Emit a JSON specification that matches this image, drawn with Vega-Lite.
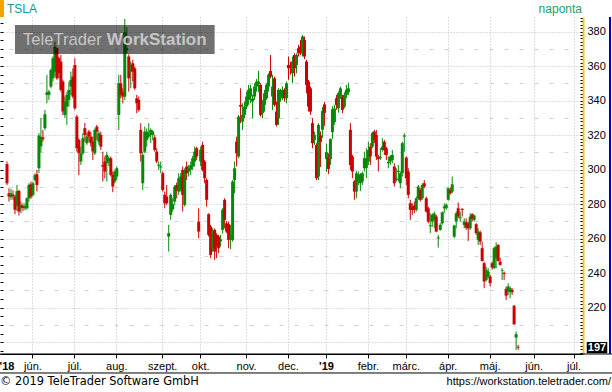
{
"$schema": "https://vega.github.io/schema/vega-lite/v6.json",
"width": 583, "height": 337,
"autosize": {"type": "none"},
"padding": {"left": 0, "top": 17, "right": 29, "bottom": 38},
"background": "white",
"config": {"view": {"stroke": null}, "font": "Liberation Sans"},
"datasets": {"tsla": [
{"d":"2018-05-14","o":303.3,"h":304.7,"l":291.1,"c":292.1},
{"d":"2018-05-15","o":286.3,"h":289.2,"l":281.5,"c":284.4},
{"d":"2018-05-16","o":284.0,"h":288.8,"l":282.5,"c":286.3},
{"d":"2018-05-17","o":285.5,"h":288.0,"l":282.5,"c":284.6},
{"d":"2018-05-18","o":284.4,"h":285.4,"l":274.2,"c":276.7},
{"d":"2018-05-21","o":279.0,"h":291.1,"l":276.0,"c":287.5},
{"d":"2018-05-22","o":287.7,"h":288.2,"l":273.4,"c":275.7},
{"d":"2018-05-23","o":277.6,"h":281.5,"l":274.7,"c":279.6},
{"d":"2018-05-24","o":279.0,"h":280.5,"l":276.0,"c":277.8},
{"d":"2018-05-25","o":277.6,"h":280.5,"l":276.4,"c":278.9},
{"d":"2018-05-29","o":277.6,"h":284.0,"l":276.7,"c":283.4},
{"d":"2018-05-30","o":283.4,"h":292.1,"l":281.5,"c":291.1},
{"d":"2018-05-31","o":291.5,"h":293.1,"l":283.0,"c":284.4},
{"d":"2018-06-01","o":285.4,"h":293.1,"l":284.4,"c":292.1},
{"d":"2018-06-04","o":294.0,"h":297.9,"l":293.1,"c":296.9},
{"d":"2018-06-05","o":297.3,"h":299.8,"l":287.3,"c":291.1},
{"d":"2018-06-06","o":300.8,"h":321.1,"l":297.9,"c":319.7},
{"d":"2018-06-07","o":313.5,"h":329.8,"l":310.0,"c":319.0},
{"d":"2018-06-08","o":318.6,"h":323.0,"l":316.2,"c":317.6},
{"d":"2018-06-11","o":324.0,"h":334.6,"l":323.0,"c":332.1},
{"d":"2018-06-12","o":343.3,"h":354.9,"l":338.4,"c":344.8},
{"d":"2018-06-13","o":343.3,"h":346.2,"l":340.4,"c":345.2},
{"d":"2018-06-14","o":348.1,"h":358.7,"l":347.1,"c":357.7},
{"d":"2018-06-15","o":352.9,"h":365.5,"l":351.0,"c":364.5},
{"d":"2018-06-18","o":356.8,"h":374.2,"l":353.9,"c":371.3},
{"d":"2018-06-19","o":370.3,"h":370.7,"l":352.0,"c":352.9},
{"d":"2018-06-20","o":364.5,"h":365.5,"l":352.9,"c":355.8},
{"d":"2018-06-21","o":362.6,"h":366.4,"l":345.2,"c":346.2},
{"d":"2018-06-22","o":351.0,"h":352.0,"l":331.7,"c":333.6},
{"d":"2018-06-25","o":331.7,"h":342.3,"l":329.8,"c":339.4},
{"d":"2018-06-26","o":336.5,"h":345.2,"l":325.9,"c":343.3},
{"d":"2018-06-27","o":340.4,"h":351.0,"l":336.5,"c":346.2},
{"d":"2018-06-28","o":348.1,"h":356.8,"l":343.3,"c":352.0},
{"d":"2018-06-29","o":353.9,"h":358.7,"l":341.3,"c":342.3},
{"d":"2018-07-02","o":360.6,"h":364.5,"l":334.6,"c":335.5},
{"d":"2018-07-03","o":330.7,"h":331.7,"l":310.4,"c":312.4},
{"d":"2018-07-05","o":317.2,"h":318.2,"l":296.9,"c":309.5},
{"d":"2018-07-06","o":304.7,"h":313.3,"l":302.7,"c":309.5},
{"d":"2018-07-09","o":309.5,"h":321.1,"l":308.5,"c":318.2},
{"d":"2018-07-10","o":324.0,"h":327.0,"l":316.2,"c":320.1},
{"d":"2018-07-11","o":315.3,"h":321.1,"l":314.3,"c":319.1},
{"d":"2018-07-12","o":322.0,"h":323.0,"l":316.2,"c":319.1},
{"d":"2018-07-13","o":319.1,"h":322.0,"l":313.3,"c":315.3},
{"d":"2018-07-16","o":316.2,"h":319.1,"l":305.6,"c":310.5},
{"d":"2018-07-17","o":309.5,"h":323.9,"l":308.5,"c":323.0},
{"d":"2018-07-18","o":324.9,"h":325.9,"l":317.2,"c":322.0},
{"d":"2018-07-19","o":316.2,"h":322.5,"l":314.3,"c":321.1},
{"d":"2018-07-20","o":320.1,"h":322.0,"l":311.4,"c":313.3},
{"d":"2018-07-23","o":302.7,"h":310.4,"l":293.1,"c":301.8},
{"d":"2018-07-24","o":304.7,"h":307.6,"l":295.0,"c":298.9},
{"d":"2018-07-25","o":303.7,"h":310.4,"l":293.1,"c":308.5},
{"d":"2018-07-26","o":304.7,"h":307.6,"l":302.0,"c":306.6},
{"d":"2018-07-27","o":306.6,"h":307.6,"l":296.0,"c":296.9},
{"d":"2018-07-30","o":296.9,"h":298.9,"l":286.9,"c":290.2},
{"d":"2018-07-31","o":293.1,"h":300.0,"l":292.1,"c":298.9},
{"d":"2018-08-01","o":296.0,"h":301.8,"l":294.0,"c":300.8},
{"d":"2018-08-02","o":331.7,"h":354.9,"l":323.0,"c":350.0},
{"d":"2018-08-03","o":350.0,"h":354.9,"l":341.3,"c":343.3},
{"d":"2018-08-06","o":345.2,"h":347.1,"l":338.4,"c":342.3},
{"d":"2018-08-07","o":342.3,"h":387.3,"l":340.4,"c":379.6},
{"d":"2018-08-08","o":369.1,"h":382.6,"l":367.1,"c":370.3},
{"d":"2018-08-09","o":365.5,"h":366.8,"l":345.2,"c":352.9},
{"d":"2018-08-10","o":356.8,"h":362.6,"l":347.1,"c":360.6},
{"d":"2018-08-13","o":361.6,"h":363.6,"l":351.0,"c":356.8},
{"d":"2018-08-14","o":358.7,"h":359.7,"l":346.2,"c":347.1},
{"d":"2018-08-15","o":341.3,"h":343.3,"l":332.7,"c":338.4},
{"d":"2018-08-16","o":340.4,"h":342.3,"l":333.6,"c":334.6},
{"d":"2018-08-17","o":323.0,"h":326.9,"l":304.7,"c":309.5},
{"d":"2018-08-20","o":292.1,"h":310.4,"l":288.2,"c":308.5},
{"d":"2018-08-21","o":310.4,"h":324.9,"l":309.5,"c":322.0},
{"d":"2018-08-22","o":317.2,"h":323.9,"l":313.3,"c":322.0},
{"d":"2018-08-23","o":319.1,"h":326.9,"l":318.2,"c":321.1},
{"d":"2018-08-24","o":320.1,"h":323.9,"l":315.3,"c":323.0},
{"d":"2018-08-27","o":320.1,"h":323.0,"l":317.0,"c":322.0},
{"d":"2018-08-28","o":318.6,"h":320.1,"l":310.4,"c":311.4},
{"d":"2018-08-29","o":310.4,"h":312.4,"l":303.7,"c":304.7},
{"d":"2018-08-30","o":302.2,"h":304.7,"l":299.8,"c":302.9},
{"d":"2018-08-31","o":301.3,"h":304.7,"l":298.0,"c":301.9},
{"d":"2018-09-04","o":297.9,"h":298.9,"l":287.3,"c":288.2},
{"d":"2018-09-05","o":285.4,"h":287.3,"l":277.6,"c":280.5},
{"d":"2018-09-06","o":284.4,"h":291.1,"l":279.6,"c":280.5},
{"d":"2018-09-07","o":261.2,"h":268.0,"l":252.5,"c":263.2},
{"d":"2018-09-10","o":273.8,"h":286.3,"l":270.9,"c":285.4},
{"d":"2018-09-11","o":277.0,"h":283.4,"l":275.7,"c":280.0},
{"d":"2018-09-12","o":281.5,"h":291.1,"l":279.6,"c":290.2},
{"d":"2018-09-13","o":291.1,"h":292.5,"l":283.4,"c":288.0},
{"d":"2018-09-14","o":287.3,"h":297.9,"l":285.4,"c":295.0},
{"d":"2018-09-17","o":288.2,"h":297.9,"l":287.3,"c":296.0},
{"d":"2018-09-18","o":299.8,"h":301.8,"l":275.7,"c":285.4},
{"d":"2018-09-19","o":279.6,"h":300.8,"l":278.6,"c":299.8},
{"d":"2018-09-20","o":301.8,"h":304.7,"l":294.0,"c":297.9},
{"d":"2018-09-21","o":298.9,"h":302.7,"l":296.0,"c":300.8},
{"d":"2018-09-24","o":300.0,"h":304.7,"l":296.9,"c":302.5},
{"d":"2018-09-25","o":301.8,"h":308.0,"l":299.8,"c":306.6},
{"d":"2018-09-26","o":304.7,"h":313.3,"l":301.8,"c":310.4},
{"d":"2018-09-27","o":312.4,"h":313.3,"l":305.6,"c":307.6},
{"d":"2018-09-28","o":269.9,"h":277.6,"l":260.3,"c":264.1},
{"d":"2018-10-01","o":304.7,"h":313.3,"l":302.0,"c":311.4},
{"d":"2018-10-02","o":314.3,"h":316.2,"l":298.9,"c":299.8},
{"d":"2018-10-03","o":304.7,"h":305.6,"l":292.1,"c":295.0},
{"d":"2018-10-04","o":294.0,"h":295.0,"l":278.6,"c":282.5},
{"d":"2018-10-05","o":274.2,"h":274.7,"l":261.2,"c":262.2},
{"d":"2018-10-08","o":267.0,"h":268.0,"l":248.7,"c":250.6},
{"d":"2018-10-09","o":254.5,"h":266.0,"l":252.5,"c":264.1},
{"d":"2018-10-10","o":265.1,"h":266.0,"l":247.7,"c":252.5},
{"d":"2018-10-11","o":262.2,"h":263.2,"l":248.7,"c":256.0},
{"d":"2018-10-12","o":261.2,"h":262.2,"l":251.6,"c":254.5},
{"d":"2018-10-15","o":258.5,"h":262.2,"l":255.4,"c":259.6},
{"d":"2018-10-16","o":265.1,"h":277.6,"l":263.0,"c":276.7},
{"d":"2018-10-17","o":282.5,"h":283.4,"l":266.0,"c":270.9},
{"d":"2018-10-18","o":268.9,"h":270.2,"l":263.2,"c":264.1},
{"d":"2018-10-19","o":268.4,"h":269.9,"l":254.5,"c":259.3},
{"d":"2018-10-22","o":259.3,"h":268.0,"l":254.0,"c":262.2},
{"d":"2018-10-23","o":259.3,"h":294.0,"l":258.3,"c":293.1},
{"d":"2018-10-24","o":294.0,"h":304.7,"l":286.3,"c":300.8},
{"d":"2018-10-25","o":316.2,"h":319.1,"l":301.8,"c":309.5},
{"d":"2018-10-26","o":307.6,"h":331.7,"l":306.6,"c":330.7},
{"d":"2018-10-29","o":337.5,"h":347.1,"l":326.9,"c":336.5},
{"d":"2018-10-30","o":327.8,"h":338.4,"l":323.0,"c":331.7},
{"d":"2018-10-31","o":331.7,"h":339.4,"l":329.8,"c":336.5},
{"d":"2018-11-01","o":336.5,"h":345.2,"l":335.0,"c":342.3},
{"d":"2018-11-02","o":340.4,"h":349.1,"l":337.5,"c":346.2},
{"d":"2018-11-05","o":342.3,"h":349.1,"l":338.4,"c":347.1},
{"d":"2018-11-06","o":339.4,"h":343.3,"l":329.8,"c":341.3},
{"d":"2018-11-07","o":342.3,"h":350.0,"l":340.4,"c":348.1},
{"d":"2018-11-08","o":348.1,"h":352.5,"l":345.2,"c":351.0},
{"d":"2018-11-09","o":349.5,"h":357.2,"l":345.0,"c":351.0},
{"d":"2018-11-12","o":349.1,"h":350.0,"l":330.7,"c":331.7},
{"d":"2018-11-13","o":332.7,"h":340.4,"l":329.8,"c":338.4},
{"d":"2018-11-14","o":337.5,"h":346.2,"l":333.6,"c":344.2},
{"d":"2018-11-15","o":341.3,"h":350.0,"l":340.4,"c":349.1},
{"d":"2018-11-16","o":348.1,"h":355.8,"l":345.2,"c":354.9},
{"d":"2018-11-19","o":357.1,"h":366.4,"l":352.9,"c":353.9},
{"d":"2018-11-20","o":342.3,"h":354.9,"l":334.6,"c":348.1},
{"d":"2018-11-21","o":352.9,"h":353.9,"l":336.5,"c":337.5},
{"d":"2018-11-23","o":333.6,"h":339.4,"l":325.0,"c":325.9},
{"d":"2018-11-26","o":329.8,"h":347.1,"l":325.9,"c":346.2},
{"d":"2018-11-27","o":341.3,"h":346.8,"l":339.4,"c":344.2},
{"d":"2018-11-28","o":343.3,"h":348.1,"l":340.4,"c":346.2},
{"d":"2018-11-29","o":346.2,"h":347.1,"l":339.4,"c":341.3},
{"d":"2018-11-30","o":341.3,"h":351.0,"l":338.4,"c":350.0},
{"d":"2018-12-03","o":360.6,"h":365.5,"l":352.0,"c":358.7},
{"d":"2018-12-04","o":359.7,"h":362.5,"l":355.0,"c":359.1},
{"d":"2018-12-06","o":355.8,"h":365.5,"l":350.0,"c":362.6},
{"d":"2018-12-07","o":366.4,"h":367.4,"l":353.9,"c":358.7},
{"d":"2018-12-10","o":360.6,"h":367.4,"l":355.8,"c":366.4},
{"d":"2018-12-11","o":370.3,"h":372.2,"l":365.5,"c":367.4},
{"d":"2018-12-12","o":371.3,"h":375.1,"l":366.4,"c":367.4},
{"d":"2018-12-13","o":367.4,"h":378.0,"l":365.5,"c":377.1},
{"d":"2018-12-14","o":375.1,"h":377.1,"l":364.0,"c":365.5},
{"d":"2018-12-17","o":362.6,"h":363.6,"l":344.2,"c":349.1},
{"d":"2018-12-18","o":351.0,"h":352.0,"l":333.6,"c":336.5},
{"d":"2018-12-19","o":347.1,"h":348.1,"l":331.7,"c":333.6},
{"d":"2018-12-20","o":326.9,"h":329.8,"l":312.4,"c":315.3},
{"d":"2018-12-21","o":317.2,"h":322.0,"l":314.3,"c":320.1},
{"d":"2018-12-24","o":314.3,"h":315.3,"l":294.0,"c":295.0},
{"d":"2018-12-26","o":296.0,"h":326.9,"l":294.0,"c":325.9},
{"d":"2018-12-27","o":319.8,"h":322.2,"l":301.5,"c":316.1},
{"d":"2018-12-28","o":323.1,"h":336.2,"l":318.4,"c":333.9},
{"d":"2018-12-31","o":337.8,"h":339.2,"l":325.3,"c":332.8},
{"d":"2019-01-02","o":306.1,"h":315.1,"l":298.8,"c":310.1},
{"d":"2019-01-03","o":307.0,"h":309.4,"l":297.4,"c":300.4},
{"d":"2019-01-04","o":306.0,"h":318.0,"l":302.7,"c":317.7},
{"d":"2019-01-07","o":321.7,"h":336.7,"l":317.8,"c":335.0},
{"d":"2019-01-08","o":327.5,"h":337.5,"l":326.0,"c":335.4},
{"d":"2019-01-09","o":341.3,"h":343.3,"l":334.6,"c":337.5},
{"d":"2019-01-10","o":335.5,"h":345.2,"l":333.0,"c":344.2},
{"d":"2019-01-11","o":342.3,"h":348.1,"l":341.0,"c":347.1},
{"d":"2019-01-14","o":342.3,"h":343.3,"l":332.7,"c":334.6},
{"d":"2019-01-15","o":336.5,"h":344.8,"l":335.5,"c":343.3},
{"d":"2019-01-16","o":343.3,"h":349.1,"l":341.3,"c":346.2},
{"d":"2019-01-17","o":344.8,"h":350.5,"l":343.3,"c":347.1},
{"d":"2019-01-18","o":323.0,"h":326.9,"l":299.8,"c":302.7},
{"d":"2019-01-22","o":307.6,"h":308.5,"l":295.0,"c":298.9},
{"d":"2019-01-23","o":293.1,"h":294.0,"l":282.5,"c":287.3},
{"d":"2019-01-24","o":287.3,"h":299.3,"l":283.4,"c":297.9},
{"d":"2019-01-25","o":293.1,"h":298.9,"l":291.1,"c":296.9},
{"d":"2019-01-28","o":292.1,"h":298.0,"l":287.5,"c":297.3},
{"d":"2019-01-29","o":293.1,"h":298.9,"l":291.1,"c":297.9},
{"d":"2019-01-30","o":300.8,"h":310.4,"l":298.9,"c":306.6},
{"d":"2019-01-31","o":301.0,"h":312.4,"l":295.0,"c":306.6},
{"d":"2019-02-01","o":304.7,"h":316.2,"l":302.7,"c":311.4},
{"d":"2019-02-04","o":313.3,"h":315.3,"l":302.7,"c":307.6},
{"d":"2019-02-05","o":313.3,"h":322.0,"l":312.4,"c":321.1},
{"d":"2019-02-06","o":322.0,"h":323.0,"l":315.3,"c":317.2},
{"d":"2019-02-07","o":320.1,"h":323.0,"l":305.6,"c":307.6},
{"d":"2019-02-08","o":307.6,"h":308.5,"l":298.9,"c":306.2},
{"d":"2019-02-11","o":306.6,"h":312.4,"l":305.6,"c":307.2},
{"d":"2019-02-12","o":311.4,"h":318.2,"l":310.4,"c":313.3},
{"d":"2019-02-13","o":316.2,"h":317.2,"l":308.5,"c":311.4},
{"d":"2019-02-14","o":312.4,"h":313.3,"l":305.6,"c":308.5},
{"d":"2019-02-15","o":303.7,"h":307.6,"l":300.8,"c":304.5},
{"d":"2019-02-19","o":304.7,"h":308.5,"l":302.7,"c":307.6},
{"d":"2019-02-20","o":305.6,"h":311.4,"l":303.7,"c":308.5},
{"d":"2019-02-21","o":301.8,"h":303.7,"l":290.2,"c":292.1},
{"d":"2019-02-22","o":294.0,"h":300.8,"l":293.1,"c":294.9},
{"d":"2019-02-25","o":298.6,"h":302.7,"l":293.1,"c":299.2},
{"d":"2019-02-26","o":292.1,"h":298.9,"l":289.2,"c":297.9},
{"d":"2019-02-27","o":297.9,"h":316.2,"l":296.0,"c":315.3},
{"d":"2019-02-28","o":319.1,"h":321.1,"l":310.4,"c":319.8},
{"d":"2019-03-01","o":307.0,"h":307.6,"l":291.1,"c":295.0},
{"d":"2019-03-04","o":298.9,"h":300.8,"l":283.4,"c":285.4},
{"d":"2019-03-05","o":280.5,"h":282.5,"l":270.9,"c":276.7},
{"d":"2019-03-06","o":278.6,"h":280.5,"l":273.8,"c":276.7},
{"d":"2019-03-07","o":279.2,"h":281.5,"l":274.7,"c":276.7},
{"d":"2019-03-08","o":276.7,"h":284.4,"l":275.7,"c":283.4},
{"d":"2019-03-11","o":283.4,"h":291.1,"l":282.5,"c":290.2},
{"d":"2019-03-12","o":288.2,"h":289.2,"l":281.5,"c":282.5},
{"d":"2019-03-13","o":283.4,"h":292.1,"l":282.5,"c":291.1},
{"d":"2019-03-14","o":292.1,"h":294.0,"l":289.2,"c":290.2},
{"d":"2019-03-15","o":283.4,"h":284.4,"l":275.2,"c":275.7},
{"d":"2019-03-18","o":277.6,"h":278.6,"l":268.9,"c":269.9},
{"d":"2019-03-19","o":267.2,"h":274.7,"l":263.2,"c":267.8},
{"d":"2019-03-20","o":269.9,"h":274.7,"l":266.9,"c":273.8},
{"d":"2019-03-21","o":270.9,"h":275.7,"l":266.0,"c":274.5},
{"d":"2019-03-22","o":272.8,"h":273.8,"l":263.7,"c":264.1},
{"d":"2019-03-25","o":260.1,"h":262.2,"l":254.8,"c":260.7},
{"d":"2019-03-26","o":265.1,"h":269.0,"l":264.6,"c":268.0},
{"d":"2019-03-27","o":268.9,"h":275.7,"l":268.0,"c":275.3},
{"d":"2019-03-28","o":277.6,"h":280.5,"l":274.7,"c":278.6},
{"d":"2019-03-29","o":277.6,"h":280.5,"l":276.7,"c":279.6},
{"d":"2019-04-01","o":282.5,"h":289.6,"l":282.0,"c":289.2},
{"d":"2019-04-02","o":288.2,"h":289.6,"l":285.4,"c":286.3},
{"d":"2019-04-03","o":287.3,"h":296.0,"l":286.3,"c":291.5},
{"d":"2019-04-04","o":261.2,"h":268.0,"l":260.3,"c":267.6},
{"d":"2019-04-05","o":269.9,"h":275.7,"l":266.0,"c":274.7},
{"d":"2019-04-08","o":277.6,"h":281.0,"l":271.8,"c":272.8},
{"d":"2019-04-09","o":271.8,"h":275.7,"l":269.9,"c":272.4},
{"d":"2019-04-10","o":277.3,"h":277.6,"l":272.8,"c":276.6},
{"d":"2019-04-11","o":268.0,"h":271.8,"l":266.0,"c":269.9},
{"d":"2019-04-12","o":269.5,"h":271.8,"l":265.1,"c":266.4},
{"d":"2019-04-15","o":268.9,"h":269.9,"l":258.7,"c":266.0},
{"d":"2019-04-16","o":266.0,"h":274.7,"l":265.1,"c":272.8},
{"d":"2019-04-17","o":274.2,"h":274.7,"l":269.9,"c":271.5},
{"d":"2019-04-18","o":270.9,"h":274.0,"l":269.9,"c":273.4},
{"d":"2019-04-22","o":268.4,"h":269.0,"l":262.2,"c":263.2},
{"d":"2019-04-23","o":259.3,"h":266.0,"l":256.4,"c":264.1},
{"d":"2019-04-24","o":263.7,"h":264.6,"l":256.4,"c":258.3},
{"d":"2019-04-25","o":254.5,"h":258.3,"l":246.7,"c":247.1},
{"d":"2019-04-26","o":245.8,"h":246.7,"l":231.3,"c":235.2},
{"d":"2019-04-29","o":236.1,"h":243.8,"l":235.2,"c":241.9},
{"d":"2019-04-30","o":238.1,"h":242.9,"l":237.1,"c":241.0},
{"d":"2019-05-01","o":238.1,"h":239.0,"l":232.3,"c":234.2},
{"d":"2019-05-02","o":245.8,"h":246.7,"l":242.0,"c":243.3},
{"d":"2019-05-03","o":242.9,"h":255.4,"l":242.5,"c":254.5},
{"d":"2019-05-06","o":248.7,"h":257.9,"l":242.9,"c":255.4},
{"d":"2019-05-07","o":256.4,"h":256.8,"l":246.7,"c":247.1},
{"d":"2019-05-08","o":246.7,"h":249.0,"l":244.4,"c":244.8},
{"d":"2019-05-09","o":241.5,"h":242.9,"l":236.1,"c":241.9},
{"d":"2019-05-10","o":240.2,"h":241.0,"l":236.1,"c":239.6},
{"d":"2019-05-13","o":230.9,"h":232.3,"l":224.5,"c":227.0},
{"d":"2019-05-14","o":229.4,"h":234.2,"l":227.4,"c":232.3},
{"d":"2019-05-15","o":229.0,"h":232.3,"l":225.5,"c":231.3},
{"d":"2019-05-16","o":230.3,"h":231.3,"l":227.4,"c":229.0},
{"d":"2019-05-17","o":221.1,"h":221.6,"l":210.1,"c":210.4},
{"d":"2019-05-20","o":202.7,"h":206.2,"l":195.6,"c":204.7},
{"d":"2019-05-21","o":197.4,"h":198.5,"l":195.6,"c":196.9}
]},
"data": {"name": "tsla"},
"resolve": {"axis": {"y": "independent"}},
"layer": [
{
"mark": {"type": "rule", "strokeWidth": 1},
"encoding": {
"x": {"field": "d", "type": "ordinal",
"scale": {"type": "band", "paddingInner": 0, "paddingOuter": 0, "domain": ["2018-05-09","2018-05-10","2018-05-11","2018-05-14","2018-05-15","2018-05-16","2018-05-17","2018-05-18","2018-05-21","2018-05-22","2018-05-23","2018-05-24","2018-05-25","2018-05-29","2018-05-30","2018-05-31","2018-06-01","2018-06-04","2018-06-05","2018-06-06","2018-06-07","2018-06-08","2018-06-11","2018-06-12","2018-06-13","2018-06-14","2018-06-15","2018-06-18","2018-06-19","2018-06-20","2018-06-21","2018-06-22","2018-06-25","2018-06-26","2018-06-27","2018-06-28","2018-06-29","2018-07-02","2018-07-03","2018-07-05","2018-07-06","2018-07-09","2018-07-10","2018-07-11","2018-07-12","2018-07-13","2018-07-16","2018-07-17","2018-07-18","2018-07-19","2018-07-20","2018-07-23","2018-07-24","2018-07-25","2018-07-26","2018-07-27","2018-07-30","2018-07-31","2018-08-01","2018-08-02","2018-08-03","2018-08-06","2018-08-07","2018-08-08","2018-08-09","2018-08-10","2018-08-13","2018-08-14","2018-08-15","2018-08-16","2018-08-17","2018-08-20","2018-08-21","2018-08-22","2018-08-23","2018-08-24","2018-08-27","2018-08-28","2018-08-29","2018-08-30","2018-08-31","2018-09-04","2018-09-05","2018-09-06","2018-09-07","2018-09-10","2018-09-11","2018-09-12","2018-09-13","2018-09-14","2018-09-17","2018-09-18","2018-09-19","2018-09-20","2018-09-21","2018-09-24","2018-09-25","2018-09-26","2018-09-27","2018-09-28","2018-10-01","2018-10-02","2018-10-03","2018-10-04","2018-10-05","2018-10-08","2018-10-09","2018-10-10","2018-10-11","2018-10-12","2018-10-15","2018-10-16","2018-10-17","2018-10-18","2018-10-19","2018-10-22","2018-10-23","2018-10-24","2018-10-25","2018-10-26","2018-10-29","2018-10-30","2018-10-31","2018-11-01","2018-11-02","2018-11-05","2018-11-06","2018-11-07","2018-11-08","2018-11-09","2018-11-12","2018-11-13","2018-11-14","2018-11-15","2018-11-16","2018-11-19","2018-11-20","2018-11-21","2018-11-23","2018-11-26","2018-11-27","2018-11-28","2018-11-29","2018-11-30","2018-12-03","2018-12-04","2018-12-06","2018-12-07","2018-12-10","2018-12-11","2018-12-12","2018-12-13","2018-12-14","2018-12-17","2018-12-18","2018-12-19","2018-12-20","2018-12-21","2018-12-24","2018-12-26","2018-12-27","2018-12-28","2018-12-31","2019-01-02","2019-01-03","2019-01-04","2019-01-07","2019-01-08","2019-01-09","2019-01-10","2019-01-11","2019-01-14","2019-01-15","2019-01-16","2019-01-17","2019-01-18","2019-01-22","2019-01-23","2019-01-24","2019-01-25","2019-01-28","2019-01-29","2019-01-30","2019-01-31","2019-02-01","2019-02-04","2019-02-05","2019-02-06","2019-02-07","2019-02-08","2019-02-11","2019-02-12","2019-02-13","2019-02-14","2019-02-15","2019-02-19","2019-02-20","2019-02-21","2019-02-22","2019-02-25","2019-02-26","2019-02-27","2019-02-28","2019-03-01","2019-03-04","2019-03-05","2019-03-06","2019-03-07","2019-03-08","2019-03-11","2019-03-12","2019-03-13","2019-03-14","2019-03-15","2019-03-18","2019-03-19","2019-03-20","2019-03-21","2019-03-22","2019-03-25","2019-03-26","2019-03-27","2019-03-28","2019-03-29","2019-04-01","2019-04-02","2019-04-03","2019-04-04","2019-04-05","2019-04-08","2019-04-09","2019-04-10","2019-04-11","2019-04-12","2019-04-15","2019-04-16","2019-04-17","2019-04-18","2019-04-22","2019-04-23","2019-04-24","2019-04-25","2019-04-26","2019-04-29","2019-04-30","2019-05-01","2019-05-02","2019-05-03","2019-05-06","2019-05-07","2019-05-08","2019-05-09","2019-05-10","2019-05-13","2019-05-14","2019-05-15","2019-05-16","2019-05-17","2019-05-20","2019-05-21","2019-05-22","2019-05-23","2019-05-24","2019-05-28","2019-05-29","2019-05-30","2019-05-31","2019-06-03","2019-06-04","2019-06-05","2019-06-06","2019-06-07","2019-06-10","2019-06-11","2019-06-12","2019-06-13","2019-06-14","2019-06-17","2019-06-18","2019-06-19","2019-06-20","2019-06-21","2019-06-24","2019-06-25","2019-06-26","2019-06-27","2019-06-28","2019-07-01","2019-07-02","2019-07-03","2019-07-05","2019-07-08"]},
"axis": {"title": null, "values": ["2018-05-14","2018-06-01","2018-07-02","2018-08-01","2018-09-04","2018-10-01","2018-11-01","2018-12-03","2019-01-02","2019-02-01","2019-03-01","2019-04-01","2019-05-01","2019-06-03","2019-07-01"],
"labelExpr": "[\"'18\",'jún.','júl.','aug.','szept.','okt.','nov.','dec.',\"'19\",'febr.','márc.','ápr.','máj.','jún.','júl.'][indexof(['2018-05-14','2018-06-01','2018-07-02','2018-08-01','2018-09-04','2018-10-01','2018-11-01','2018-12-03','2019-01-02','2019-02-01','2019-03-01','2019-04-01','2019-05-01','2019-06-03','2019-07-01'], datum.value)]",
"labelAngle": 0, "labelFontSize": 11, "labelColor": "#000000", "labelPadding": 2, "labelBaseline": "top", "labelOverlap": false, "labelFlush": false,
"labelFontWeight": {"condition": {"test": "datum.value == '2018-05-14' || datum.value == '2019-01-02'", "value": "bold"}, "value": "normal"},
"grid": true, "gridColor": "#bdbdbd", "gridDash": [1, 2],
"gridOpacity": {"condition": {"test": "datum.value == '2018-05-14'", "value": 0}, "value": 1},
"tickOpacity": {"condition": {"test": "datum.value == '2018-05-14'", "value": 0}, "value": 1},
"domainColor": "#000000", "tickColor": "#000000", "tickSize": 4}},
"y": {"field": "l", "type": "quantitative",
"scale": {"domain": [193.2, 388.4], "nice": false, "zero": false},
"axis": {"orient": "right", "title": null,
"values": [194,196,198,200,202,204,206,208,210,212,214,216,218,220,222,224,226,228,230,232,234,236,238,240,242,244,246,248,250,252,254,256,258,260,262,264,266,268,270,272,274,276,278,280,282,284,286,288,290,292,294,296,298,300,302,304,306,308,310,312,314,316,318,320,322,324,326,328,330,332,334,336,338,340,342,344,346,348,350,352,354,356,358,360,362,364,366,368,370,372,374,376,378,380,382,384,386,388],
"labelExpr": "datum.value % 20 == 0 && datum.value >= 220 ? datum.label : ''",
"labelFontSize": 11, "labelColor": "#000000", "labelPadding": 7, "labelAlign": "left", "labelBaseline": "middle",
"grid": true,
"gridOpacity": {"condition": {"test": "datum.value % 10 == 0", "value": 1}, "value": 0},
"gridDash": {"condition": {"test": "datum.value % 20 == 0", "value": [1, 2]}, "value": [4, 11]},
"gridColor": {"condition": {"test": "datum.value % 20 == 0", "value": "#bdbdbd"}, "value": "#d0d0d0"},
"domainColor": "#f2c230", "domainWidth": 2, "tickColor": "#000000", "tickSize": -3}},
"y2": {"field": "h"},
"color": {"condition": {"test": "datum.c >= datum.o", "value": "#088808"}, "value": "#cc0000"}
}
},
{
"mark": {"type": "bar", "width": 3},
"encoding": {
"x": {"field": "d", "type": "ordinal"},
"y": {"field": "o", "type": "quantitative", "axis": null},
"y2": {"field": "c"},
"color": {"condition": {"test": "datum.c >= datum.o", "value": "#088808"}, "value": "#cc0000"}
}
},
{
"data": {"values": [{}]},
"mark": {"type": "rect", "color": "#000000", "opacity": 0.56},
"encoding": {
"x": {"datum": "2018-05-18", "type": "ordinal"},
"x2": {"datum": "2018-10-10"},
"y": {"datum": 383.8, "type": "quantitative",
"axis": {"orient": "left", "title": null, "values": [195,200,205,210,215,220,225,230,235,240,245,250,255,260,265,270,275,280,285,290,295,300,305,310,315,320,325,330,335,340,345,350,355,360,365,370,375,380,385], "labels": false, "grid": false, "domain": false, "tickColor": "#000000", "tickSize": -3}},
"y2": {"datum": 367.0}
}
},
{
"data": {"values": [{}]},
"mark": {"type": "text", "text": "TeleTrader", "align": "left", "baseline": "middle", "fontSize": 16.6, "color": "#c6c6c6", "font": "Liberation Sans"},
"encoding": {"x": {"datum": "2018-05-24", "type": "ordinal"}, "y": {"datum": 375.1, "type": "quantitative", "axis": null}}
},
{
"data": {"values": [{}]},
"mark": {"type": "text", "text": "WorkStation", "align": "left", "baseline": "middle", "fontSize": 17, "fontWeight": "bold", "color": "#c6c6c6", "font": "Liberation Sans"},
"encoding": {"x": {"datum": "2018-07-25", "type": "ordinal"}, "y": {"datum": 375.1, "type": "quantitative", "axis": null}}
},
{
"data": {"values": [{}]},
"mark": {"type": "rule", "color": "#f5a300", "strokeWidth": 4, "xOffset": -1},
"encoding": {"x": {"datum": "2018-05-10", "type": "ordinal"}, "y": {"datum": 398.2, "type": "quantitative", "axis": null}, "y2": {"datum": 388.4}}
},
{
"data": {"values": [{}]},
"mark": {"type": "text", "text": "TSLA", "align": "left", "baseline": "middle", "fontSize": 12, "color": "#109a8c"},
"encoding": {"x": {"datum": "2018-05-14", "type": "ordinal"}, "y": {"datum": 393.3, "type": "quantitative", "axis": null}}
},
{
"data": {"values": [{}]},
"mark": {"type": "text", "text": "naponta", "align": "right", "baseline": "middle", "fontSize": 12, "color": "#1a9c70"},
"encoding": {"x": {"datum": "2019-07-08", "type": "ordinal"}, "y": {"datum": 393.3, "type": "quantitative", "axis": null}}
},
{
"data": {"values": [{}]},
"mark": {"type": "rule", "color": "#000000", "strokeWidth": 1, "xOffset": -1, "x2Offset": 30},
"encoding": {"x": {"datum": "2018-05-09", "type": "ordinal"}, "x2": {"datum": "2019-07-08"}, "y": {"datum": 182.2, "type": "quantitative", "axis": null}}
},
{
"data": {"values": [{}]},
"mark": {"type": "rule", "color": "#000000", "strokeWidth": 1, "xOffset": -1, "x2Offset": 30},
"encoding": {"x": {"datum": "2018-05-09", "type": "ordinal"}, "x2": {"datum": "2019-07-08"}, "y": {"datum": 193.2, "type": "quantitative", "axis": null}}
},
{
"data": {"values": [{}]},
"mark": {"type": "rule", "color": "#0000c8", "strokeWidth": 2, "xOffset": 28},
"encoding": {"x": {"datum": "2019-07-08", "type": "ordinal"}}
},
{
"transform": [{"filter": "datum.d == '2019-05-21'"}],
"mark": {"type": "point", "shape": "M-1,-0.55H1V0.55H-1Z", "size": 420, "filled": true, "color": "#000000", "opacity": 1, "xOffset": 15},
"encoding": {"x": {"datum": "2019-07-08", "type": "ordinal"}, "y": {"field": "c", "type": "quantitative", "axis": null}}
},
{
"transform": [{"filter": "datum.d == '2019-05-21'"}],
"mark": {"type": "text", "color": "#ffffff", "fontWeight": "bold", "fontSize": 11, "align": "center", "baseline": "middle", "xOffset": 15},
"encoding": {"x": {"datum": "2019-07-08", "type": "ordinal"}, "y": {"field": "c", "type": "quantitative", "axis": null}, "text": {"field": "c", "format": ".0f"}}
},
{
"data": {"values": [{}]},
"mark": {"type": "text", "text": "© 2019 TeleTrader Software GmbH", "align": "left", "baseline": "middle", "fontSize": 11.4, "font": "DejaVu Sans", "color": "#000000", "dx": -1},
"encoding": {"x": {"datum": "2018-05-09", "type": "ordinal"}, "y": {"datum": 176.7, "type": "quantitative", "axis": null}}
},
{
"data": {"values": [{}]},
"mark": {"type": "text", "text": "https://workstation.teletrader.com/", "align": "right", "baseline": "middle", "fontSize": 11, "font": "Liberation Sans", "color": "#000000", "dx": 29},
"encoding": {"x": {"datum": "2019-07-08", "type": "ordinal"}, "y": {"datum": 176.7, "type": "quantitative", "axis": null}}
}
]
}
